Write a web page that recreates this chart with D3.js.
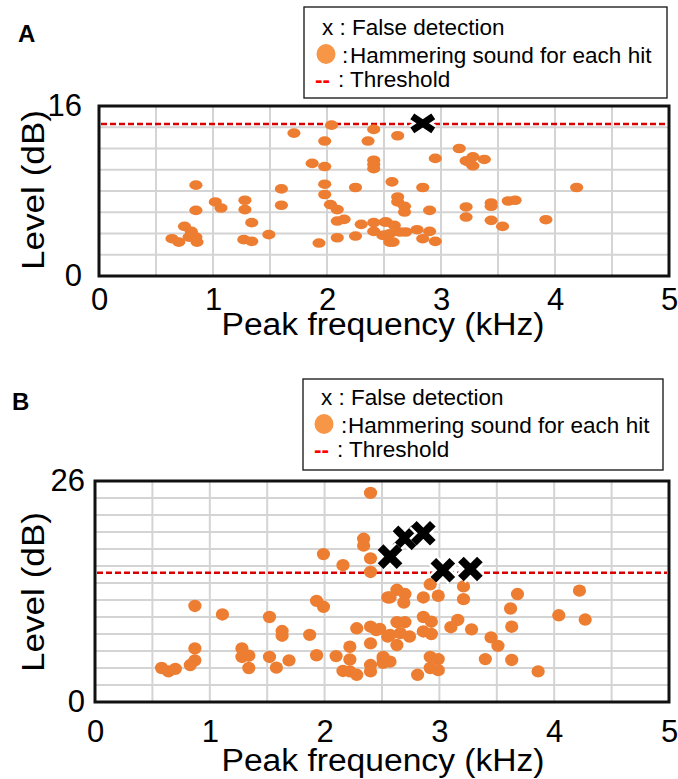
<!DOCTYPE html>
<html>
<head>
<meta charset="utf-8">
<script src="https://cdn.jsdelivr.net/npm/d3@7"></script>
<style>
  html, body { margin: 0; padding: 0; background: #fff; }
  svg { display: block; }
  text { font-family: Arial, "Liberation Sans", Helvetica, sans-serif; fill: #000; }
</style>
</head>
<body>
<svg id="chart" width="678" height="779"></svg>
<script>
// ---------- DATA ----------
const xTicks = [0, 1, 2, 3, 4, 5];
const yTicksA = [0, 16];
const yTicksB = [0, 26];
const thresholdA = 14.3;
const thresholdB = 15.2;
const legendItems = ["False detection", "Hammering sound for each hit", "Threshold"];

// Panel A: [peak frequency kHz, level dB]
const hitsA = [
  [1.71,13.45],[2.04,14.2],[1.98,12.7],[2.41,13.8],[2.36,12.7],[1.87,10.6],[1.98,10.3],
  [2.41,10.9],[2.41,10.5],[2.41,10.1],[0.85,8.55],[1.60,8.2],[1.98,8.64],[1.98,7.67],
  [2.25,8.33],[2.57,8.86],[1.02,6.97],[1.07,6.4],[1.28,7.13],[1.28,6.25],[0.85,6.18],
  [1.60,6.66],[2.03,6.72],[2.09,6.25],[1.34,5.02],[0.75,4.67],[0.81,4.2],[0.85,3.66],
  [0.64,3.51],[0.70,3.19],[0.86,3.19],[0.79,3.66],[1.27,3.42],[1.34,3.26],[1.49,3.89],
  [1.93,3.1],[2.09,3.6],[2.25,3.76],[2.09,5.17],[2.15,5.33],[2.30,4.86],[2.41,5.02],
  [2.41,4.2],[2.51,5.08],[2.51,3.82],[2.55,3.19],[2.62,13.2],[3.16,12.0],[2.95,11.07],
  [3.22,10.84],[3.28,11.22],[3.28,10.37],[3.38,10.97],[3.25,10.7],[2.84,8.33],[4.19,8.33],
  [2.62,7.44],[2.62,6.97],[2.68,6.56],[2.68,6.02],[2.90,6.18],[3.22,6.5],[3.22,5.55],
  [3.44,6.87],[3.44,6.56],[3.59,7.06],[3.65,7.13],[3.44,5.24],[3.54,4.67],[3.92,5.3],
  [2.52,5.08],[2.59,4.77],[2.55,3.98],[2.64,4.14],[2.69,4.14],[2.58,3.19],[2.79,4.36],
  [2.90,4.2],[2.84,3.51],[2.95,3.26],[2.49,3.82]
];
const falseA = [[2.84,14.37]];

// Panel B: [peak frequency kHz, level dB]
const hitsB = [
  [2.40,24.6],[2.34,19.2],[2.34,18.4],[1.99,17.4],[2.40,16.9],[2.16,16.1],[2.40,15.3],
  [0.87,11.3],[1.11,10.3],[1.52,10.0],[1.93,11.9],[1.99,11.2],[2.55,12.3],[1.63,8.35],
  [1.63,7.8],[1.87,7.9],[2.28,8.67],[2.40,8.86],[2.45,8.47],[2.40,6.9],[2.22,6.5],
  [2.55,7.7],[0.87,6.3],[1.28,6.3],[1.28,5.3],[1.34,5.45],[1.52,5.3],[1.93,5.5],
  [2.10,5.4],[2.22,5.0],[1.69,4.9],[0.87,4.9],[0.83,4.35],[0.58,4.0],[0.64,3.6],
  [0.70,3.9],[1.34,4.0],[1.58,4.05],[2.16,3.65],[2.28,3.2],[2.40,4.35],[2.40,3.6],
  [2.51,5.1],[2.51,4.6],[2.22,3.6],
  [2.92,13.85],[3.21,13.6],[2.57,12.3],[2.63,13.2],[2.70,12.7],[2.69,11.7],[2.86,12.3],
  [2.99,12.5],[3.21,12.1],[3.68,12.7],[4.22,13.1],[3.62,11.0],[4.04,10.2],[4.27,9.7],
  [2.63,9.4],[2.70,9.4],[2.86,10.0],[2.93,9.45],[3.16,9.65],[3.10,8.8],[3.28,8.55],
  [3.63,8.86],[2.48,8.6],[2.57,7.9],[2.66,8.1],[2.74,7.7],[2.63,6.7],[2.86,8.3],
  [2.93,8.0],[3.45,7.6],[3.51,6.6],[2.51,5.3],[2.57,4.75],[2.92,5.3],[2.99,5.05],
  [2.92,4.0],[2.99,3.75],[2.81,3.2],[3.40,5.05],[3.63,4.95],[3.86,3.6]
];
const falseB = [[2.70,19.3],[2.57,17.1],[2.86,19.85],[3.03,15.5],[3.27,15.65]];

// ---------- DRAW ----------
const svg = d3.select("#chart");
const DOT = "#ED7D31";

function drawPanel(cfg) {
  const g = svg.append("g");
  const x = d3.scaleLinear().domain([0, 5]).range([cfg.left, cfg.right]);
  const y = d3.scaleLinear().domain([0, cfg.yMax]).range([cfg.bottom, cfg.top]);

  // grid
  const xGrid = d3.range(0, 5.0001, 0.5);
  const yGrid = d3.range(0, cfg.yMax + 0.001, 2);
  g.append("g").selectAll("line").data(xGrid).join("line")
    .attr("x1", d => x(d)).attr("x2", d => x(d))
    .attr("y1", y(0)).attr("y2", y(cfg.yMax))
    .attr("stroke", "#d4d4d4").attr("stroke-width", 2);
  g.append("g").selectAll("line").data(yGrid).join("line")
    .attr("x1", x(0)).attr("x2", x(5))
    .attr("y1", d => y(d)).attr("y2", d => y(d))
    .attr("stroke", "#d4d4d4").attr("stroke-width", 2);

  // frame
  g.append("rect")
    .attr("x", x(0)).attr("y", y(cfg.yMax))
    .attr("width", x(5) - x(0)).attr("height", y(0) - y(cfg.yMax))
    .attr("fill", "none").attr("stroke", "#111").attr("stroke-width", 3);

  // threshold
  g.append("line")
    .attr("x1", x(0) + 2).attr("x2", x(5) - 2)
    .attr("y1", y(cfg.threshold)).attr("y2", y(cfg.threshold))
    .attr("stroke", "#D80000").attr("stroke-width", 2.4)
    .attr("stroke-dasharray", "6,3");

  // dots
  g.append("g").selectAll("ellipse").data(cfg.hits).join("ellipse")
    .attr("cx", d => x(d[0])).attr("cy", d => y(d[1]))
    .attr("rx", cfg.rx).attr("ry", cfg.ry)
    .attr("fill", DOT);

  // false detections
  const sx = cfg.mx, sy = cfg.my;
  const xPath = `M${-sx},${-sy}L${sx},${sy}M${-sx},${sy}L${sx},${-sy}`;
  const marks = g.append("g").selectAll("g").data(cfg.falses).join("g")
    .attr("transform", d => `translate(${x(d[0])},${y(d[1])})`);
  marks.append("path").attr("d", xPath).attr("fill", "none")
    .attr("stroke", "#fff").attr("stroke-width", cfg.mw + 5);
  marks.append("path").attr("d", xPath).attr("fill", "none")
    .attr("stroke", "#000").attr("stroke-width", cfg.mw);

  // axes (labels only)
  const xAxis = g.append("g").attr("transform", `translate(0,${y(0)})`)
    .call(d3.axisBottom(x).tickValues(xTicks).tickFormat(d3.format("d"))
      .tickSize(0).tickPadding(cfg.xPad));
  xAxis.select(".domain").remove();
  xAxis.selectAll("text").attr("font-size", 31).attr("fill", "#000")
    .attr("font-family", "Arial, 'Liberation Sans', sans-serif");

  const yAxis = g.append("g").attr("transform", `translate(${x(0)},0)`)
    .call(d3.axisLeft(y).tickValues(cfg.yTicks).tickFormat(d3.format("d"))
      .tickSize(0).tickPadding(cfg.yPad));
  yAxis.select(".domain").remove();
  yAxis.selectAll("text").attr("font-size", 31).attr("fill", "#000")
    .attr("font-family", "Arial, 'Liberation Sans', sans-serif");

  // titles
  g.append("text").attr("x", 383).attr("y", cfg.xTitleY)
    .attr("text-anchor", "middle").attr("font-size", 31)
    .attr("textLength", 323).attr("lengthAdjust", "spacingAndGlyphs")
    .text("Peak frequency (kHz)");
  g.append("text")
    .attr("transform", `translate(44,${cfg.yTitleY}) rotate(-90)`)
    .attr("text-anchor", "middle").attr("font-size", 31)
    .attr("textLength", 160).attr("lengthAdjust", "spacingAndGlyphs")
    .text("Level (dB)");

  // panel letter
  g.append("text").attr("x", cfg.letterX).attr("y", cfg.letterY)
    .attr("font-size", 24).attr("font-weight", "bold").text(cfg.letter);

  // legend
  const L = cfg.legend;
  const lg = g.append("g");
  lg.append("rect").attr("x", L.x).attr("y", L.y).attr("width", L.w).attr("height", L.h)
    .attr("fill", "#fff").attr("stroke", "#222").attr("stroke-width", 1.4);
  lg.append("text").attr("x", L.x + 18).attr("y", L.b1).attr("font-size", 22.5)
    .text("x : " + legendItems[0]);
  lg.append("ellipse").attr("cx", L.cx).attr("cy", L.b2 - 9).attr("rx", 9.5).attr("ry", 10)
    .attr("fill", "#F79646");
  lg.append("text").attr("x", L.x + 38).attr("y", L.b2).attr("font-size", 22.5)
    .text(":");
  lg.append("text").attr("x", L.tx2).attr("y", L.b2).attr("font-size", 22.5)
    .text(legendItems[1]);
  lg.append("text").attr("x", L.x + 11).attr("y", L.b3).attr("font-size", 22.5)
    .attr("font-weight", "bold").style("fill", "#ff0000").text("--");
  lg.append("text").attr("x", L.x + 34).attr("y", L.b3).attr("font-size", 22.5)
    .text(": " + legendItems[2]);
}

drawPanel({
  letter: "A", letterX: 18, letterY: 42,
  left: 99, right: 669, top: 106, bottom: 276, yMax: 16,
  yTicks: yTicksA, threshold: thresholdA,
  hits: hitsA, falses: falseA, rx: 6.6, ry: 4.8,
  mx: 10.5, my: 7, mw: 7,
  xPad: 12, yPad: 17, xTitleY: 335, yTitleY: 190,
  legend: { x: 304, y: 7, w: 363, h: 91, b1: 35, b2: 63, b3: 87, cx: 326, tx2: 350 }
});

drawPanel({
  letter: "B", letterX: 12, letterY: 410,
  left: 95, right: 669, top: 481, bottom: 702, yMax: 26,
  yTicks: yTicksB, threshold: thresholdB,
  hits: hitsB, falses: falseB, rx: 6.6, ry: 6.2,
  mx: 9.5, my: 9.5, mw: 8,
  xPad: 18, yPad: 10, xTitleY: 771, yTitleY: 592,
  legend: { x: 303, y: 379, w: 360, h: 91, b1: 405, b2: 433, b3: 457, cx: 324, tx2: 348 }
});
</script>
</body>
</html>
